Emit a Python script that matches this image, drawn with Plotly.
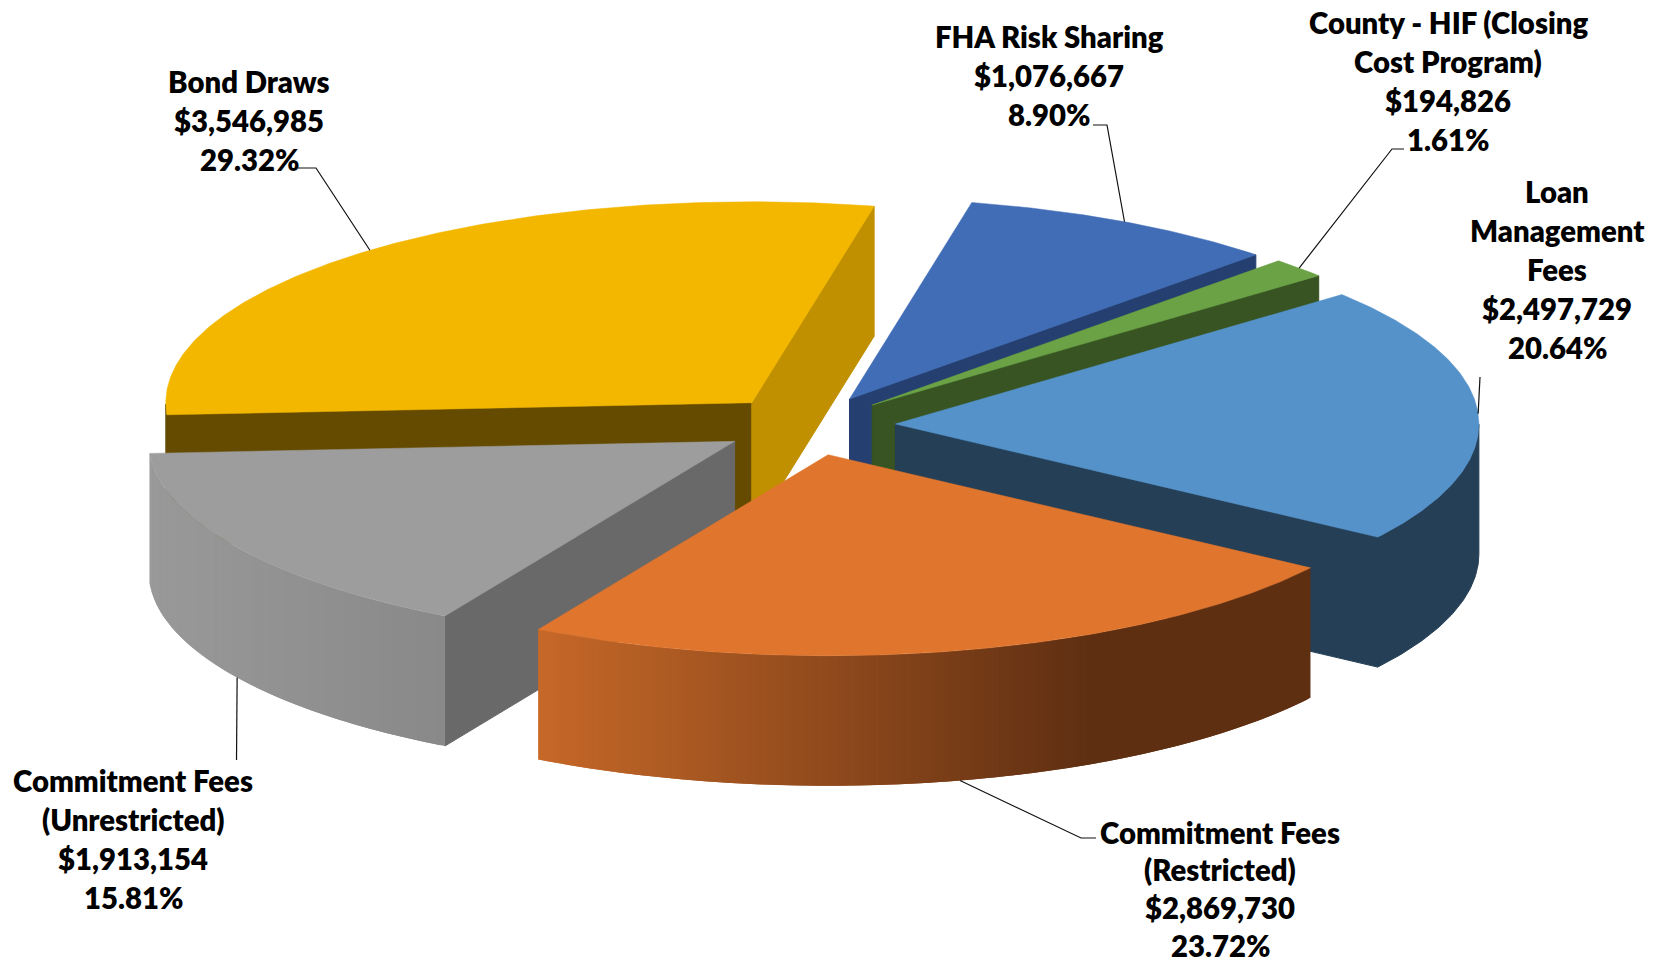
import math
import plotly.graph_objects as go

# Funding sources, clockwise from the top of the pie
names = [
    ["FHA Risk Sharing"],
    ["County - HIF (Closing", "Cost Program)"],
    ["Loan", "Management", "Fees"],
    ["Commitment Fees", "(Restricted)"],
    ["Commitment Fees", "(Unrestricted)"],
    ["Bond Draws"],
]
amounts = [1076667, 194826, 2497729, 2869730, 1913154, 3546985]

top_colors = ["#416DB7", "#6AA245", "#5592CA", "#E0752D", "#9D9D9D", "#F3B700"]
cut_colors = ["#254070", "#375422", "#243F56", "#5F3013", "#696969", "#654B00"]
far_cut_colors = [None, None, None, None, None, "#C09000"]
# (x, colour) stops of the horizontal shading on the rim of each slice
rim_stops = [
    [(0, "#254070")],
    [(0, "#375422")],
    [(0, "#243F56")],
    [(538, "#C66828"), (1088, "#5F2F12"), (1311, "#5F2F12")],
    [(150, "#999999"), (443, "#898989")],
    [(0, "#654B00")],
]

# Painter's order: slices at the back first
draw_order = [5, 0, 1, 2, 4, 3]

# Projected pie geometry, in pixels; the left half is drawn slightly wider
START_ANGLE = 77.9
RX_RIGHT, RX_LEFT, RY = 583.5, 586.0, 201.0
DEPTH = 130.0
CX, CY = 808.5, 425.5
EXPLODE_X, EXPLODE_Y = 87.0, 30.0

# Label centres (x, y of first line), line spacing and leader elbows
label_anchor = [(1049, 36), (1448, 22), (1557, 191), (1220, 832), (133, 780), (249, 81)]
label_step = [39, 39, 39, 37.8, 39, 39]
leader_elbows = [
    [(1107, 125), (1093, 125)],
    [(1392, 149), (1404, 149)],
    [(1480, 377)],
    [(1081, 838), (1096, 838)],
    [(236.5, 760)],
    [(316, 168), (298, 168)],
]
leader_on_rim = [False, False, False, True, True, False]


def hex_rgb(c):
    return tuple(int(c[i:i + 2], 16) for i in (1, 3, 5))


def shade(stops, x):
    if len(stops) == 1 or x <= stops[0][0]:
        return stops[0][1]
    for (x0, c0), (x1, c1) in zip(stops, stops[1:]):
        if x <= x1:
            f = (x - x0) / (x1 - x0)
            a, b = hex_rgb(c0), hex_rgb(c1)
            return "rgb(%d,%d,%d)" % tuple(round(p + (q - p) * f) for p, q in zip(a, b))
    return stops[-1][1]


fig = go.Figure()


def polygon(pts, color, edge=1.0):
    xs = [p[0] for p in pts] + [pts[0][0]]
    ys = [p[1] for p in pts] + [pts[0][1]]
    fig.add_trace(go.Scatter(
        x=xs, y=ys, mode="lines", fill="toself", fillcolor=color,
        line=dict(color=color, width=edge),
        hoverinfo="skip", showlegend=False,
    ))


total = sum(amounts)
spans = []
angle = START_ANGLE
for v in amounts:
    sweep = 360.0 * v / total
    spans.append((angle, angle - sweep))
    angle -= sweep


def apex_of(t0, t1):
    mid = math.radians((t0 + t1) / 2)
    return CX + EXPLODE_X * math.cos(mid), CY - EXPLODE_Y * math.sin(mid)


def rim_point(apex, t):
    r = math.radians(t)
    c = math.cos(r)
    return apex[0] + (RX_RIGHT if c > 0 else RX_LEFT) * c, apex[1] - RY * math.sin(r)


def drop(p):
    return p[0], p[1] + DEPTH


for i in draw_order:
    t0, t1 = spans[i]
    apex = apex_of(t0, t1)

    # Cut faces that look toward the viewer
    if math.sin(math.radians(t0 + 90)) < 0:
        p = rim_point(apex, t0)
        polygon([apex, p, drop(p), drop(apex)], cut_colors[i])
    if math.sin(math.radians(t1 - 90)) < 0:
        p = rim_point(apex, t1)
        polygon([apex, p, drop(p), drop(apex)], far_cut_colors[i] or cut_colors[i])

    # Rim: only the part on the near half of the ellipse is visible
    steps = max(2, int(t0 - t1) * 2)
    near = [t0 + (t1 - t0) * k / steps for k in range(steps + 1)]
    near = [t for t in near if math.sin(math.radians(t)) <= 0.001]
    if len(near) > 1:
        pts = [rim_point(apex, t) for t in near]
        if len(rim_stops[i]) == 1:
            polygon(pts + [drop(p) for p in reversed(pts)], rim_stops[i][0][1])
        else:
            # Each band runs under the next one so no seams show between them
            for k in range(len(pts) - 1):
                a, b = pts[k], pts[min(k + 2, len(pts) - 1)]
                mid_x = (pts[k][0] + pts[k + 1][0]) / 2
                polygon([a, b, drop(b), drop(a)], shade(rim_stops[i], mid_x), edge=0)

    # Top face
    steps = max(2, int(t0 - t1) * 2)
    top = [rim_point(apex, t0 + (t1 - t0) * k / steps) for k in range(steps + 1)]
    polygon([apex] + top, top_colors[i], edge=0.5)

# Leader lines run from the middle of each slice's rim to its label
for i, (t0, t1) in enumerate(spans):
    apex = apex_of(t0, t1)
    start = rim_point(apex, (t0 + t1) / 2)
    if leader_on_rim[i]:
        start = drop(start)
    pts = [start] + leader_elbows[i]
    fig.add_trace(go.Scatter(
        x=[p[0] for p in pts], y=[p[1] for p in pts], mode="lines",
        line=dict(color="#111111", width=1.2),
        hoverinfo="skip", showlegend=False,
    ))

# Labels: name lines, then amount, then share
for i, v in enumerate(amounts):
    lines = names[i] + ["${:,}".format(v), "{:.2f}%".format(100.0 * v / total)]
    x, y = label_anchor[i]
    for k, text in enumerate(lines):
        fig.add_annotation(
            x=x, y=y + k * label_step[i], text=text, showarrow=False,
            xanchor="center", yanchor="middle",
            font=dict(family="Lato", size=29.3, color="#000000", weight=800),
        )

fig.update_xaxes(range=[0, 1667], visible=False, fixedrange=True)
fig.update_yaxes(range=[963, 0], visible=False, fixedrange=True)
fig.update_layout(
    width=1667, height=963, margin=dict(l=0, r=0, t=0, b=0),
    paper_bgcolor="#FFFFFF", plot_bgcolor="#FFFFFF", showlegend=False,
)

fig.write_html("out.html", config={"displayModeBar": False})
